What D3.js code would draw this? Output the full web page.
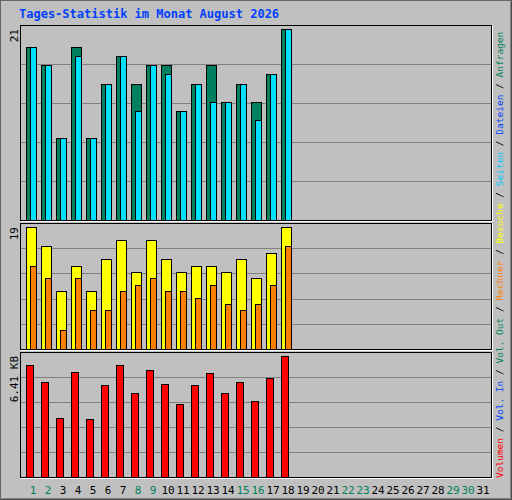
<!DOCTYPE html>
<html><head><meta charset="utf-8">
<script src="https://cdn.jsdelivr.net/npm/d3@7"></script>
<style>body{margin:0;background:#fff}</style>
</head><body><div id="chart"></div>
<script>
// Data
const days = d3.range(1, 32);
const weekendDays = [1, 2, 8, 9, 15, 16, 22, 23, 29, 30];
const hits = [19, 17, 9, 19, 9, 15, 18, 15, 17, 17, 12, 15, 17, 13, 15, 13, 16, 21];
const files = [19, 17, 9, 18, 9, 15, 18, 12, 17, 16, 12, 15, 13, 13, 15, 11, 16, 21];
const visits = [19, 16, 9, 13, 9, 14, 17, 12, 17, 14, 12, 13, 13, 12, 14, 11, 15, 19];
const sites = [13, 11, 3, 11, 6, 6, 9, 10, 11, 9, 9, 8, 10, 7, 6, 7, 10, 16];
const kbytes = [5.93, 5.02, 3.14, 5.55, 3.09, 4.86, 5.93, 4.43, 5.66, 4.91, 3.89, 4.86, 5.50, 4.43, 5.02, 4.0, 5.23, 6.41];
const legend = [
  ["Volumen", "#ff0000"], ["Vol. In", "#0040ff"], ["Vol. Out", "#00805c"], ["Rechner", "#ff8000"],
  ["Besuche", "#ffff00"], ["Seiten", "#00c8ff"], ["Dateien", "#0040ff"], ["Anfragen", "#00805c"]
];

const W = 512, H = 500;
const svg = d3.select("#chart").append("svg").attr("width", W).attr("height", H)
  .style("font-family", "'DejaVu Sans Mono', monospace");

// Background with bevel
svg.append("rect").attr("width", W).attr("height", H).attr("fill", "#c0c0c0");
svg.append("path").attr("d", `M0.5,${H - 0.5}V0.5H${W - 0.5}`).attr("stroke", "#fff").attr("fill", "none");
svg.append("path").attr("d", `M1.5,${H - 1.5}H${W - 1.5}V1.5`).attr("stroke", "#808080").attr("fill", "none");
svg.append("rect").attr("x", 0.5).attr("y", 0.5).attr("width", W - 1).attr("height", H - 1)
  .attr("fill", "none").attr("stroke", "#000").attr("stroke-opacity", 0.6);

svg.append("text").attr("x", 19).attr("y", 18).attr("fill", "#0040ff")
  .attr("font-weight", "bold").attr("font-size", 12).text("Tages-Statistik im Monat August 2026");

const x = d3.scaleBand().domain(days).range([25.5, 490.5]).paddingInner(0);
const left = 20, right = 491;

function panel(top, bottom, max, label) {
  const y = d3.scaleLinear().domain([0, max]).range([bottom, top + 4]);
  svg.append("rect").attr("x", left + 0.5).attr("y", top + 0.5).attr("width", right - left)
    .attr("height", bottom - top).attr("fill", "#c0c0c0").attr("stroke", "#000");
  svg.append("path").attr("d", `M${left + 0.5},${bottom + 1.5}H${right + 1.5}V${top + 0.5}`)
    .attr("stroke", "#fff").attr("fill", "none");
  const step = (bottom - top) / 5;
  for (let i = 1; i < 5; i++) {
    svg.append("line").attr("x1", left + 1).attr("x2", right)
      .attr("y1", Math.round(top + step * i) + 0.5).attr("y2", Math.round(top + step * i) + 0.5)
      .attr("stroke", "#808080");
  }
  svg.append("text").attr("transform", `translate(18,${top + 4}) rotate(-90)`)
    .attr("text-anchor", "end").attr("font-size", 11).attr("fill", "#000").text(label);
  return y;
}

function bars(y, data, color, dx, w) {
  svg.append("g").selectAll("rect").data(data).join("rect")
    .attr("x", (d, i) => Math.round(x(i + 1)) + dx + 0.5)
    .attr("y", d => Math.round(y(d)) + 0.5)
    .attr("width", w).attr("height", d => y(0) - Math.round(y(d)))
    .attr("fill", color).attr("stroke", "#000");
}

const y1 = panel(25, 220, 21, "21");
bars(y1, hits, "#008060", 0, 10);
bars(y1, files, "#00e0ff", 4, 6);

const y2 = panel(223, 349, 19, "19");
bars(y2, visits, "#ffff00", 0, 10);
bars(y2, sites, "#ff8000", 4, 6);

const y3 = panel(352, 477, 6.41, "6.41 KB");
bars(y3, kbytes, "#ff0000", 0, 7);

// Day labels
svg.append("g").selectAll("text").data(days).join("text")
  .attr("x", d => x(d) + 7.5).attr("y", 494).attr("text-anchor", "middle")
  .attr("font-size", 11)
  .attr("fill", d => weekendDays.includes(d) ? "#00805c" : "#000").text(d => d);

// Right legend
const lt = svg.append("text").attr("transform", "translate(503,478) rotate(-90)")
  .attr("font-size", 9.5);
legend.forEach((l, i) => {
  if (i > 0) lt.append("tspan").attr("fill", "#000").text(" / ");
  lt.append("tspan").attr("fill", l[1]).text(l[0]);
});
</script></body></html>
